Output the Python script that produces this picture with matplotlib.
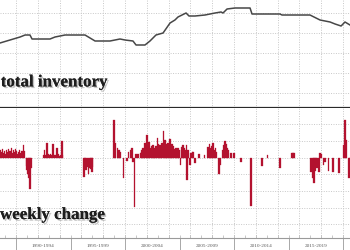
import matplotlib
matplotlib.use("Agg")
import matplotlib.pyplot as plt
import matplotlib.patheffects as pe
from matplotlib.ticker import MultipleLocator

# -- total inventory (year, level) --
inv_years = [1988.53, 1990.37, 1990.83, 1991.28, 1991.47, 1993.12, 1993.58, 1994.5,
             1996.33, 1996.79, 1997.25, 1998.62, 1999.08, 1999.54, 2000.0, 2000.73,
             2001.01, 2001.83, 2002.29, 2002.84, 2003.49, 2004.13, 2004.58, 2004.86,
             2005.23, 2005.6, 2005.87, 2006.42, 2007.34, 2008.26, 2008.81, 2008.99,
             2009.36, 2010.09, 2011.47, 2011.65, 2014.22, 2014.4, 2016.97, 2017.52,
             2017.89, 2018.81, 2019.27, 2019.82, 2020.18, 2020.64]
inv_values = [150, 156, 158, 158, 154, 154, 156, 158,
              158, 155, 152, 152, 153, 154, 153, 152,
              148, 148, 152, 158, 160, 170, 173, 176,
              178, 180, 177, 177, 178, 180, 181, 180,
              184, 185, 185, 179, 179, 178, 178, 175,
              173, 171, 169, 167, 171, 168]

# -- weekly change (year, change) --
chg_years = [1988.55, 1988.65, 1988.75, 1988.85, 1988.95, 1989.05, 1989.15, 1989.25,
             1989.35, 1989.45, 1989.55, 1989.65, 1989.75, 1989.85, 1989.95, 1990.05,
             1990.15, 1990.25, 1990.35, 1990.45, 1990.55, 1990.65, 1990.73,
             1990.92, 1991.0, 1991.1, 1991.19, 1991.28, 1991.37,
             1992.55, 1992.65, 1992.75, 1992.84, 1992.95, 1993.05, 1993.15, 1993.25,
             1993.39, 1993.5, 1993.6, 1993.76, 1993.86, 1993.96, 1994.06, 1994.22, 1994.3,
             1996.24, 1996.33, 1996.42, 1996.52, 1996.61, 1996.7, 1996.8, 1996.88,
             1996.97, 1997.05,
             1998.99, 1999.08, 1999.27, 1999.36, 1999.45, 1999.54, 1999.82, 2000.18,
             2000.28, 2000.55, 2000.64, 2000.73, 2000.83, 2001.01, 2001.19,
             2001.38, 2001.47, 2001.56, 2001.65, 2001.74, 2001.83, 2001.93, 2002.02,
             2002.11, 2002.2, 2002.29, 2002.39, 2002.48, 2002.57, 2002.66, 2002.75,
             2002.84, 2002.94, 2003.03, 2003.12, 2003.21, 2003.3, 2003.39, 2003.49,
             2003.58, 2003.67, 2003.76, 2003.85, 2003.94, 2004.04, 2004.13, 2004.22,
             2004.31, 2004.4, 2004.5, 2004.59, 2004.68, 2004.77, 2004.86, 2004.95,
             2005.05, 2005.14, 2005.23, 2005.32, 2005.41, 2005.5, 2005.6, 2005.69,
             2005.78, 2005.96, 2006.05, 2006.15, 2006.24, 2006.42, 2006.79, 2007.25,
             2007.61, 2007.71, 2007.8, 2007.89, 2007.98, 2008.07, 2008.16, 2008.26,
             2008.35, 2008.62, 2008.72, 2008.99, 2009.08, 2009.17, 2009.27, 2009.36,
             2009.45, 2009.72, 2010.0, 2010.64, 2011.56, 2012.57, 2013.03, 2014.22,
             2015.32, 2015.41, 2015.5, 2017.06, 2017.16, 2017.25, 2017.34, 2017.43,
             2017.52, 2017.61, 2017.8, 2017.89, 2017.98, 2018.17, 2018.35, 2018.63,
             2019.08, 2019.63, 2020.09, 2020.18, 2020.27, 2020.55, 2020.64]
chg_values = [2.4, 1.8, 2.7, 1.5, 2.1, 1.2, 2.4, 1.8,
              2.7, 2.1, 3.0, 1.5, 2.4, 1.8, 2.7, 2.1,
              1.2, 1.8, 2.4, 1.5, 2.1, 3.9, 2.0,
              -2.4, -3.6, -4.8, -6.0, -9.3, -3.0,
              0.9, 2.4, 0.8, 4.3, 1.0, 0.7, 1.2, 0.9,
              4.0, 0.9, 0.7, 2.8, 1.0, 0.6, 0.9, 5.0, 0.8,
              -5.9, -2.4, -3.6, -2.7, -5.0, -3.0, -2.4, -3.3,
              -4.4, -2.7,
              11.2, 4.5, 2.8, 1.2, 2.2, 1.6, -6.2, -1.0,
              1.6, 2.2, 2.8, -1.4, -14.8, 1.2, 1.0,
              1.3, 1.8, 2.2, 2.8, 1.6, 4.3, 2.2, 6.7,
              3.4, 4.6, 2.8, 3.4, 2.2, 3.7, 2.8, 2.2,
              3.4, 5.8, 4.0, 3.1, 3.7, 2.8, 4.3, 7.9,
              4.6, 5.2, 3.4, 4.0, 4.3, 2.8, 5.5, 3.4,
              4.0, 3.4, 2.5, 2.2, 2.8, 1.9, 2.8, 2.2,
              -2.3, 2.2, 3.1, 3.7, 2.8, 2.2, 3.7, -6.8,
              2.2, -2.3, 1.3, 1.6, 1.6, -1.7, 1.0, 0.8,
              3.1, 4.0, 2.2, 2.8, 3.4, 4.3, 2.2, 2.8,
              1.6, -5.0, -2.3, 2.2, 3.7, 5.0, 4.0, 2.8,
              2.2, 1.3, 1.3, -1.4, -14.6, -2.6, 0.8, -3.2,
              1.3, 1.3, 1.3, -4.4, -6.2, -5.6, -7.6, -3.9,
              -1.7, -3.2, -4.4, 1.3, 1.0, -2.3, -1.4, -4.1,
              -4.4, -4.7, 3.7, 11.2, 5.2, -6.1, -3.8]

# 5-year spans on the bottom axis
span_starts = [1985, 1990, 1995, 2000, 2005, 2010, 2015]
span_labels = ["1985-1989", "1990-1994", "1995-1999", "2000-2004",
               "2005-2009", "2010-2014", "2015-2019"]

LINE_COLOR = "#474747"
BAR_COLOR = "#b3122f"
GRID_COLOR = "#c8c8c8"
XMIN, XMAX = 1988.53, 2020.64

fig = plt.figure(figsize=(3.5, 2.5), dpi=100)
ax1 = fig.add_axes([0, 0.568, 1, 0.432])
ax2 = fig.add_axes([0, 0.048, 1, 0.52])

label_fx = [pe.withSimplePatchShadow(offset=(1.2, -1.2), shadow_rgbFace="#888888", alpha=0.5),
            pe.Normal()]

# -- top panel: total inventory --
ax1.plot(inv_years, inv_values, color=LINE_COLOR, linewidth=1.1)
ax1.set_xlim(XMIN, XMAX)
ax1.set_ylim(85, 193)
ax1.yaxis.set_major_locator(MultipleLocator(20))
ax1.xaxis.set_major_locator(MultipleLocator(2))
ax1.grid(True, color=GRID_COLOR, linestyle=(0, (1, 1.5)), linewidth=0.7)
ax1.tick_params(left=False, bottom=False, labelleft=False, labelbottom=False)
for side in ["top", "left", "right"]:
    ax1.spines[side].set_visible(False)
ax1.spines["bottom"].set_color("#2a2a2a")
ax1.spines["bottom"].set_linewidth(1.6)
ax1.text(0.002, 0.2, "total inventory", transform=ax1.transAxes,
         family="Liberation Serif", fontweight="bold", fontsize=12.2,
         color="#1e1e1e", va="baseline", ha="left", path_effects=label_fx)

# -- bottom panel: weekly change --
ax2.bar(chg_years, chg_values, width=0.1, color=BAR_COLOR,
        edgecolor=BAR_COLOR, linewidth=0.2)
ax2.set_xlim(XMIN, XMAX)
ax2.set_ylim(-24.15, 14.85)
ax2.yaxis.set_major_locator(MultipleLocator(5))
ax2.xaxis.set_major_locator(MultipleLocator(2))
ax2.grid(True, color=GRID_COLOR, linestyle=(0, (1, 1.5)), linewidth=0.7)
ax2.set_axisbelow(True)
ax2.tick_params(axis="y", left=False, labelleft=False)
for side in ["top", "left", "right"]:
    ax2.spines[side].set_visible(False)
ax2.spines["bottom"].set_color("#9a9a9a")
ax2.spines["bottom"].set_linewidth(0.8)

# separators every 5 years hanging below the axis, small yearly ticks inside
sec = ax2.secondary_xaxis("bottom")
sec.set_xticks(span_starts + [2020])
sec.tick_params(axis="x", length=9, width=0.6, color="#9a9a9a", labelbottom=False)
sec.spines["bottom"].set_visible(False)
ax2.xaxis.set_minor_locator(MultipleLocator(1))
ax2.tick_params(axis="x", which="both", direction="in", length=2, width=0.5,
                color="#b0b0b0", labelbottom=False)

for start, lab in zip(span_starts, span_labels):
    ax2.text(start + 2.5, -0.065, lab, transform=ax2.get_xaxis_transform(),
             ha="center", va="center", fontsize=3.8, family="Liberation Serif",
             color="#5a5a5a", clip_on=False)

ax2.text(0.0, 0.146, "weekly change", transform=ax2.transAxes,
         family="Liberation Serif", fontweight="bold", fontsize=12.2,
         color="#1e1e1e", va="baseline", ha="left", path_effects=label_fx)

fig.savefig("out.png", dpi=100, facecolor="white")
